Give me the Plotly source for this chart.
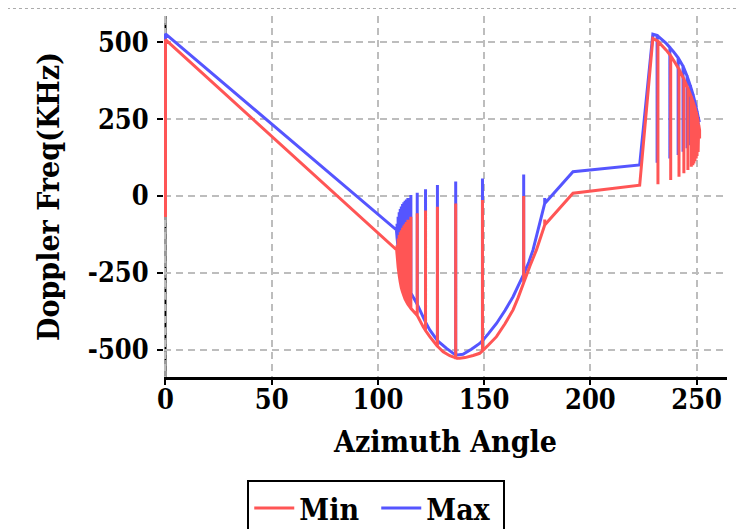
import plotly.graph_objects as go

# Min (red) trace path: azimuth angle / doppler frequency (KHz)
min_x = [0, 0, 108.8,
         109.0, 109.0, 109.0, 109.5, 109.5, 109.5, 110.0, 110.0, 110.0,
         110.5, 110.5, 110.5, 111.0, 111.0, 111.0, 111.6, 111.6, 111.6,
         112.2, 112.2, 112.2, 112.8, 112.8, 112.8, 113.4, 113.4, 113.4,
         114.1, 114.1, 114.1, 115.5, 115.5, 115.5, 118.5, 118.5, 118.5,
         121.3, 122.4, 122.4, 122.4, 124.4, 128.0, 128.0, 128.0,
         130.7, 133.8, 136.6, 136.6, 136.6, 138.5, 141.0, 144.8, 147.9,
         149.2, 149.2, 149.2, 152.0, 155.8, 159.8, 163.6, 166.0,
         168.6, 168.6, 168.6, 171.5, 174.6,
         178.5, 178.5, 178.5, 191.8, 223.2, 229.4,
         231.8, 231.8, 231.8, 235.7, 237.8, 237.8, 237.8, 239.5,
         241.7, 241.7, 241.7, 244.0, 244.0, 244.0, 245.9, 245.9, 245.9,
         247.5, 247.5, 247.5, 248.2, 248.2, 248.2, 248.7, 248.7, 248.7,
         249.2, 249.2, 249.2, 249.8, 249.8, 249.8, 250.2, 250.2, 250.2,
         250.7, 250.7, 250.7, 251.0, 251.0, 251.0, 251.4, 251.4]
min_y = [-68, 508, -175,
         -190, -160, -190, -230, -138, -230, -258, -127, -258,
         -280, -118, -280, -298, -111, -298, -312, -103, -312,
         -324, -96, -324, -335, -90, -335, -343, -84, -343,
         -352, -77, -352, -365, -67, -365, -388, -56, -388,
         -425, -437, -47, -437, -457, -488, -35, -488,
         -506, -519, -526, -24, -526, -527, -525, -518, -511,
         -503, -13, -503, -484, -457, -415, -370, -330,
         -282, 0, -282, -228, -175,
         -94, -76, -94, 9, 35, 512,
         503, 38, 503, 474, 456, 52, 456, 437,
         412, 63, 412, 380, 74, 380, 350, 85, 350,
         322, 95, 322, 308, 100, 308, 298, 106, 298,
         287, 113, 287, 272, 122, 272, 260, 130, 260,
         243, 143, 243, 232, 160, 232, 214, 187]

# Max (blue) trace path
max_x = [0, 0, 108.7,
         109.0, 109.0, 109.0, 109.5, 109.5, 109.5, 110.0, 110.0, 110.0,
         110.5, 110.5, 110.5, 111.0, 111.0, 111.0, 111.6, 111.6, 111.6,
         112.2, 112.2, 112.2, 112.8, 112.8, 112.8, 113.4, 113.4, 113.4,
         114.1, 114.1, 114.1, 115.5, 115.5, 115.5, 118.5, 118.5, 118.5,
         122.4, 122.4, 122.4, 124.4, 128.0, 128.0, 128.0, 132.3,
         136.6, 136.6, 136.6, 140.0, 144.0, 147.9,
         149.2, 149.2, 149.2, 152.0, 155.8, 159.8, 163.6, 166.0,
         168.6, 168.6, 168.6, 171.0, 173.0,
         178.5, 178.5, 178.5, 191.8, 223.2, 229.4,
         231.4, 231.4, 231.4, 235.7, 237.4, 237.4, 237.4, 239.0,
         241.3, 241.3, 241.3, 243.6, 243.6, 243.6, 245.5, 245.5, 245.5,
         247.1, 247.1, 247.1, 248.3, 248.3, 248.3, 249.4, 249.4, 249.4,
         250.2, 250.2, 250.2, 250.8, 250.8, 250.8, 251.3]
max_y = [-3, 527, -110,
         -135, -90, -135, -170, -67, -170, -198, -53, -198,
         -222, -42, -222, -238, -34, -238, -252, -26, -252,
         -265, -20, -265, -276, -15, -276, -287, -11, -287,
         -297, -6, -297, -315, 3, -315, -352, 11, -352,
         -410, 22, -410, -435, -470, 36, -470, -495,
         -517, 47, -517, -514, -498, -479,
         -470, 57, -470, -447, -414, -372, -327, -292,
         -255, 70, -255, -215, -175,
         -24, -6, -24, 79, 101, 526,
         522, 108, 522, 496, 483, 122, 483, 470,
         449, 133, 449, 422, 144, 422, 390, 155, 390,
         357, 165, 357, 330, 172, 330, 300, 185, 300,
         275, 200, 275, 255, 215, 255, 240]

x_ticks = [0, 50, 100, 150, 200, 250]
y_ticks = [-500, -250, 0, 250, 500]

FAMILY = "DejaVu Serif Condensed, DejaVu Serif"
TICK_FONT = dict(family=FAMILY, size=27, color="black", weight="bold")
TITLE_FONT = dict(family=FAMILY, size=30, color="black", weight="bold")

fig = go.Figure()
fig.add_trace(go.Scatter(x=max_x, y=max_y, mode="lines", name="Max",
                         line=dict(color="#5555ff", width=3)))
fig.add_trace(go.Scatter(x=min_x, y=min_y, mode="lines", name="Min",
                         line=dict(color="#ff5555", width=3)))

fig.update_layout(
    width=744, height=529,
    margin=dict(l=156, r=25, t=8, b=160, autoexpand=False),
    paper_bgcolor="white", plot_bgcolor="white",
    font=TITLE_FONT,
    showlegend=True,
    legend=dict(orientation="h", traceorder="reversed", itemwidth=40,
                entrywidth=72, entrywidthmode="pixels",
                x=0.377, xanchor="center", y=-0.2853, yanchor="top",
                bordercolor="black", borderwidth=2, bgcolor="white",
                font=TITLE_FONT),
    xaxis=dict(range=[-0.7, 264.3], tickvals=x_ticks, ticktext=[str(v) for v in x_ticks],
               showgrid=True, gridcolor="#bdbdbd", gridwidth=1.5, griddash="7px,5px",
               zeroline=False, showline=True, linecolor="black", linewidth=2.5,
               ticks="outside", ticklen=5, tickwidth=2, tickcolor="black",
               tickfont=TICK_FONT, layer="below traces", automargin=False,
               ticklabelstandoff=-8,
               title=dict(text="Azimuth Angle", font=TITLE_FONT, standoff=17)),
    yaxis=dict(range=[-588, 585], tickvals=y_ticks, ticktext=[str(v) for v in y_ticks],
               showgrid=True, gridcolor="#bdbdbd", gridwidth=1.5, griddash="7px,5px",
               zeroline=False, showline=False,
               ticks="outside", ticklen=6, tickwidth=2, tickcolor="black",
               tickfont=TICK_FONT, layer="below traces", automargin=False,
               ticklabelstandoff=3,
               title=dict(text="Doppler Freq(KHz)", font=TITLE_FONT, standoff=19)),
    shapes=[
        dict(type="line", xref="x", yref="paper", x0=0, x1=0, y0=0, y1=1,
             line=dict(color="black", width=2), layer="between"),
        dict(type="line", xref="x", yref="paper", x0=0, x1=0, y0=0, y1=1,
             line=dict(color="#9a9a9a", width=3, dash="6px,5px"), layer="between"),
        dict(type="line", xref="paper", yref="paper", x0=-0.2789, x1=-0.2789,
             y0=-0.45, y1=1.0208, line=dict(color="#aaaaaa", width=1, dash="dot")),
        dict(type="line", xref="paper", yref="paper", x0=-0.2789, x1=1.05,
             y0=1.0208, y1=1.0208, line=dict(color="#aaaaaa", width=1, dash="dot")),
    ],
)

fig.write_html("out.html")
